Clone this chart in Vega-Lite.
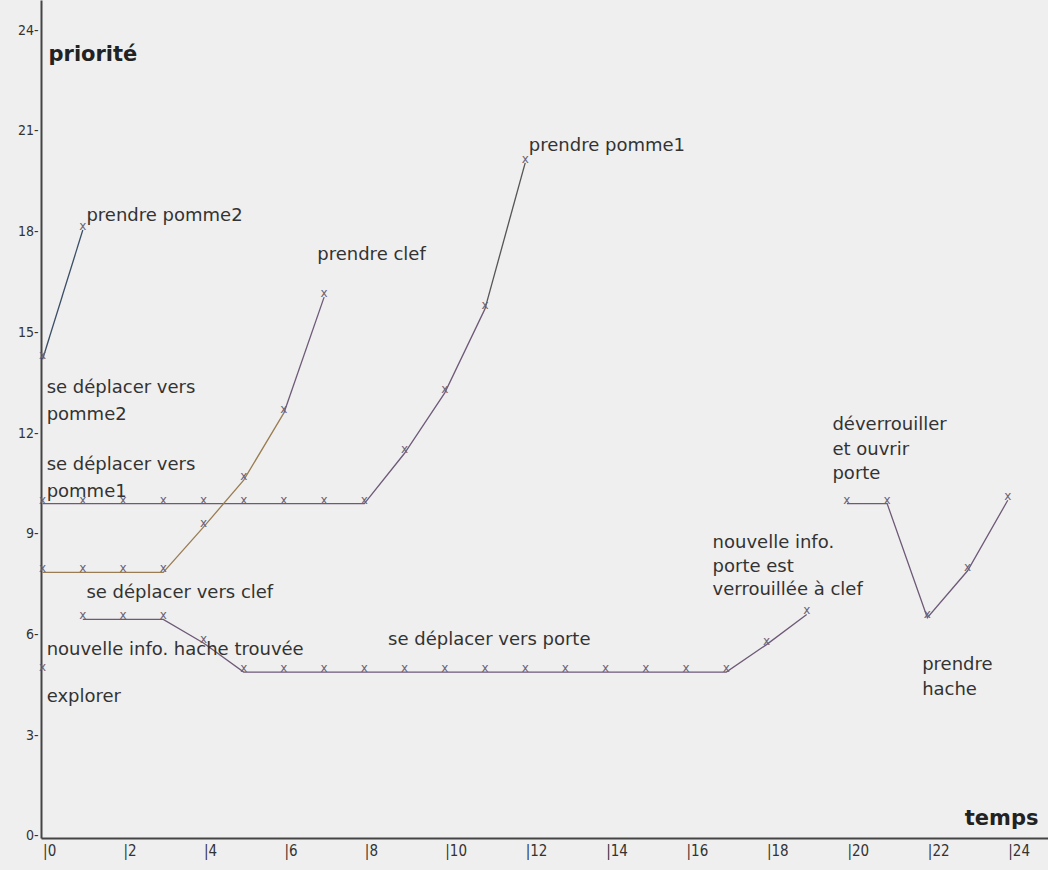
{
  "$schema": "https://vega.github.io/schema/vega-lite/v6.json",
  "width": 1007,
  "height": 838,
  "padding": {"left": 41, "top": 0, "right": 0, "bottom": 32},
  "autosize": {"type": "none"},
  "background": "#efefef",
  "config": {"view": {"stroke": null}, "font": "DejaVu Sans"},
  "datasets": {
    "pts": [
      {"s": "pomme2", "t": 0, "v": 14.2},
      {"s": "pomme2", "t": 1, "v": 18.05},
      {"s": "pomme1a", "t": 0, "v": 9.9},
      {"s": "pomme1a", "t": 1, "v": 9.9},
      {"s": "pomme1a", "t": 2, "v": 9.9},
      {"s": "pomme1a", "t": 3, "v": 9.9},
      {"s": "pomme1a", "t": 4, "v": 9.9},
      {"s": "pomme1a", "t": 5, "v": 9.9},
      {"s": "pomme1a", "t": 6, "v": 9.9},
      {"s": "pomme1a", "t": 7, "v": 9.9},
      {"s": "pomme1a", "t": 8, "v": 9.9},
      {"s": "pomme1a", "t": 9, "v": 11.4},
      {"s": "pomme1a", "t": 10, "v": 13.2},
      {"s": "pomme1a", "t": 11, "v": 15.7},
      {"s": "pomme1b", "t": 11, "v": 15.7, "m": 0},
      {"s": "pomme1b", "t": 12, "v": 20.05},
      {"s": "clefa", "t": 0, "v": 7.85},
      {"s": "clefa", "t": 1, "v": 7.85},
      {"s": "clefa", "t": 2, "v": 7.85},
      {"s": "clefa", "t": 3, "v": 7.85},
      {"s": "clefa", "t": 4, "v": 9.2},
      {"s": "clefa", "t": 5, "v": 10.6},
      {"s": "clefa", "t": 6, "v": 12.6},
      {"s": "clefb", "t": 6, "v": 12.6, "m": 0},
      {"s": "clefb", "t": 7, "v": 16.05},
      {"s": "porte", "t": 1, "v": 6.45},
      {"s": "porte", "t": 2, "v": 6.45},
      {"s": "porte", "t": 3, "v": 6.45},
      {"s": "porte", "t": 4, "v": 5.75},
      {"s": "porte", "t": 5, "v": 4.88},
      {"s": "porte", "t": 6, "v": 4.88},
      {"s": "porte", "t": 7, "v": 4.88},
      {"s": "porte", "t": 8, "v": 4.88},
      {"s": "porte", "t": 9, "v": 4.88},
      {"s": "porte", "t": 10, "v": 4.88},
      {"s": "porte", "t": 11, "v": 4.88},
      {"s": "porte", "t": 12, "v": 4.88},
      {"s": "porte", "t": 13, "v": 4.88},
      {"s": "porte", "t": 14, "v": 4.88},
      {"s": "porte", "t": 15, "v": 4.88},
      {"s": "porte", "t": 16, "v": 4.88},
      {"s": "porte", "t": 17, "v": 4.88},
      {"s": "porte", "t": 18, "v": 5.7},
      {"s": "porte", "t": 19, "v": 6.6},
      {"s": "ouvrir", "t": 20, "v": 9.9},
      {"s": "ouvrir", "t": 21, "v": 9.9},
      {"s": "ouvrir", "t": 22, "v": 6.5},
      {"s": "ouvrir", "t": 23, "v": 7.9},
      {"s": "ouvrir", "t": 24, "v": 10.0},
      {"s": "explorer", "t": 0, "v": 4.9}
    ],
    "labels": [
      {"t": 1.09, "v": 18.32, "txt": "prendre pomme2"},
      {"t": 6.83, "v": 17.16, "txt": "prendre clef"},
      {"t": 12.09, "v": 20.41, "txt": "prendre pomme1"},
      {"t": 0.1, "v": 13.2, "txt": "se déplacer vers"},
      {"t": 0.1, "v": 12.39, "txt": "pomme2"},
      {"t": 0.1, "v": 10.9, "txt": "se déplacer vers"},
      {"t": 0.1, "v": 10.1, "txt": "pomme1"},
      {"t": 1.09, "v": 7.09, "txt": "se déplacer vers clef"},
      {"t": 0.1, "v": 5.39, "txt": "nouvelle info. hache trouvée"},
      {"t": 0.1, "v": 3.99, "txt": "explorer"},
      {"t": 8.59, "v": 5.69, "txt": "se déplacer vers porte"},
      {"t": 16.66, "v": 8.58, "txt": "nouvelle info."},
      {"t": 16.66, "v": 7.86, "txt": "porte est"},
      {"t": 16.66, "v": 7.18, "txt": "verrouillée à clef"},
      {"t": 19.64, "v": 12.09, "txt": "déverrouiller"},
      {"t": 19.64, "v": 11.35, "txt": "et ouvrir"},
      {"t": 19.64, "v": 10.63, "txt": "porte"},
      {"t": 21.87, "v": 4.94, "txt": "prendre"},
      {"t": 21.87, "v": 4.2, "txt": "hache"}
    ]
  },
  "encoding": {
    "x": {
      "field": "t",
      "type": "quantitative",
      "scale": {"domain": [-0.04, 25], "nice": false, "zero": false},
      "axis": {
        "values": [0, 2, 4, 6, 8, 10, 12, 14, 16, 18, 20, 22, 24],
        "labelExpr": "'|' + datum.label",
        "ticks": false,
        "grid": false,
        "labelAlign": "left",
        "labelBaseline": "top",
        "labelPadding": 5,
        "labelDx": -1,
        "labelFontSize": 15,
        "labelFont": "DejaVu Sans Condensed",
        "labelColor": "#333333",
        "labelFlush": false,
        "labelOverlap": false,
        "domainColor": "#444444",
        "domainWidth": 2,
        "title": "temps",
        "titleX": 997,
        "titleY": -14,
        "titleAlign": "right",
        "titleBaseline": "alphabetic",
        "titleFontSize": 21,
        "titleFontWeight": "bold",
        "titleColor": "#222222"
      }
    },
    "y": {
      "field": "v",
      "type": "quantitative",
      "scale": {"domain": [-0.06, 24.9], "nice": false, "zero": false},
      "axis": {
        "values": [0, 3, 6, 9, 12, 15, 18, 21, 24],
        "labelExpr": "datum.label + '-'",
        "ticks": false,
        "grid": false,
        "labelPadding": 3,
        "labelFontSize": 14,
        "labelFont": "DejaVu Sans Condensed",
        "labelColor": "#333333",
        "labelFlush": false,
        "labelOverlap": false,
        "domainColor": "#444444",
        "domainWidth": 2,
        "title": "priorité",
        "titleAngle": 0,
        "titleX": 7,
        "titleY": 60,
        "titleAlign": "left",
        "titleBaseline": "alphabetic",
        "titleFontSize": 21,
        "titleFontWeight": "bold",
        "titleColor": "#222222"
      }
    }
  },
  "layer": [
    {
      "data": {"name": "pts"},
      "mark": {"type": "line", "strokeWidth": 1.3},
      "encoding": {
        "color": {
          "field": "s",
          "type": "nominal",
          "legend": null,
          "scale": {
            "domain": ["pomme2", "pomme1a", "pomme1b", "clefa", "clefb", "porte", "ouvrir", "explorer"],
            "range": ["#3b4e66", "#6e5a78", "#555555", "#9a7c52", "#6e5a78", "#6e5a78", "#6e5a78", "#6e5a78"]
          }
        }
      }
    },
    {
      "data": {"name": "pts"},
      "transform": [{"filter": "datum.m != 0"}],
      "mark": {"type": "text", "text": "x", "dy": -4, "fontSize": 12, "color": "#6b6275"}
    },
    {
      "data": {"name": "labels"},
      "mark": {"type": "text", "align": "left", "baseline": "alphabetic", "fontSize": 18, "color": "#333333"},
      "encoding": {"text": {"field": "txt", "type": "nominal"}}
    }
  ]
}
